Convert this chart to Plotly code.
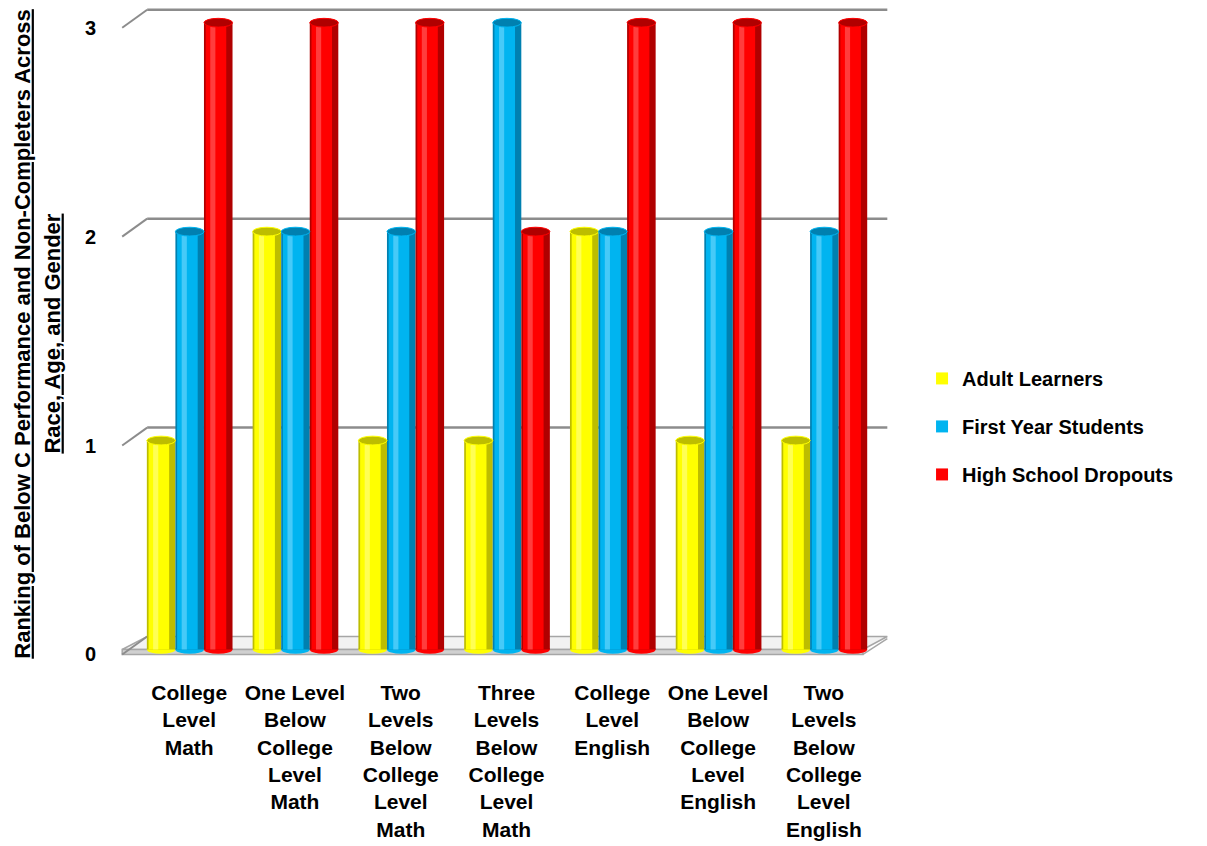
import plotly.graph_objects as go

categories = [
    "College<br>Level<br>Math",
    "One Level<br>Below<br>College<br>Level<br>Math",
    "Two<br>Levels<br>Below<br>College<br>Level<br>Math",
    "Three<br>Levels<br>Below<br>College<br>Level<br>Math",
    "College<br>Level<br>English",
    "One Level<br>Below<br>College<br>Level<br>English",
    "Two<br>Levels<br>Below<br>College<br>Level<br>English",
]
series_names = ["Adult Learners", "First Year Students", "High School Dropouts"]
adult = [1, 2, 1, 1, 2, 1, 1]
first_year = [2, 2, 2, 3, 2, 2, 2]
dropouts = [3, 3, 3, 2, 3, 3, 3]
y_ticks = [0, 1, 2, 3]

series_values = [adult, first_year, dropouts]
main_colors = ["#FFFF00", "#00B4F0", "#FF0000"]
dark_colors = ["#BDBD00", "#0080B0", "#B00000"]
light_colors = ["#FFFF99", "#7FDCFF", "#FF7070"]

FONT = "Liberation Sans, Arial, sans-serif"
xs = list(range(len(categories)))
bw = 0.27
offsets = [-0.40, -0.13, 0.14]

fig = go.Figure()
for i, (name, vals) in enumerate(zip(series_names, series_values)):
    off = offsets[i]
    fig.add_trace(go.Bar(x=xs, y=vals, width=bw, offset=off, marker=dict(color=dark_colors[i], line_width=0),
                         showlegend=False, hoverinfo="skip", legendgroup=name))
    fig.add_trace(go.Bar(x=xs, y=vals, width=bw * 0.72, offset=off + bw * 0.06, name=name,
                         marker=dict(color=main_colors[i], line_width=0), legendrank=i + 1,
                         legendgroup=name))
    fig.add_trace(go.Bar(x=xs, y=vals, width=bw * 0.18, offset=off + bw * 0.22,
                         marker=dict(color=light_colors[i], line_width=0, opacity=0.55),
                         showlegend=False, hoverinfo="skip", legendgroup=name))

shapes = []
GRID = "#8C8C8C"
back_dy = 0.062
front_dy = -0.024
x_front_left, x_back_left = -0.633, -0.397
x_back_right, x_front_right = 6.60, 6.37

shapes.append(dict(type="path", layer="below",
                   path=f"M {x_front_left},{0} L {x_front_right},{0} L {x_back_right},{back_dy} L {x_back_left},{back_dy} Z",
                   fillcolor="#F2F2F2", line=dict(color="#A6A6A6", width=1.5)))
shapes.append(dict(type="path", layer="below",
                   path=f"M {x_front_left},{0} L {x_front_right},{0} L {x_front_right},{front_dy} L {x_front_left},{front_dy} Z",
                   fillcolor="#D0D0D0", line=dict(color="#A6A6A6", width=1.5)))
shapes.append(dict(type="line", layer="below", x0=x_front_right, y0=front_dy, x1=x_back_right, y1=back_dy - 0.01,
                   line=dict(color="#A6A6A6", width=1.5)))
for v in y_ticks[1:]:
    shapes.append(dict(type="line", layer="below", x0=x_back_left, x1=x_back_right, y0=v + back_dy, y1=v + back_dy,
                       line=dict(color=GRID, width=2.5)))
    shapes.append(dict(type="line", layer="below", x0=x_front_left, x1=x_back_left, y0=v + front_dy, y1=v + back_dy,
                       line=dict(color=GRID, width=2)))
shapes.append(dict(type="line", layer="below", x0=x_front_left, x1=x_back_left, y0=front_dy, y1=back_dy,
                   line=dict(color=GRID, width=2)))

cap_h = 0.021
for i, vals in enumerate(series_values):
    for j, v in enumerate(vals):
        x0 = j + offsets[i]
        x1 = x0 + bw
        shapes.append(dict(type="circle", layer="below", x0=x0, x1=x1, y0=-cap_h, y1=cap_h,
                           fillcolor=main_colors[i], line=dict(width=0)))
        shapes.append(dict(type="circle", layer="above", x0=x0, x1=x1, y0=v - cap_h, y1=v + cap_h,
                           fillcolor=dark_colors[i], line=dict(color=main_colors[i], width=1)))

fig.update_layout(
    width=1207, height=846,
    margin=dict(l=113, r=307, t=6, b=183.5, autoexpand=False),
    paper_bgcolor="white", plot_bgcolor="white",
    barmode="overlay",
    shapes=shapes,
    font=dict(family=FONT, color="black", size=20),
    showlegend=True,
    legend=dict(x=1.028, y=0.462, xanchor="left", yanchor="top", traceorder="grouped",
                tracegroupgap=19, font=dict(family=FONT, size=20, weight="bold"),
                bgcolor="rgba(0,0,0,0)", itemwidth=30),
    xaxis=dict(range=[-0.72, 6.72], tickmode="array", tickvals=xs, ticktext=categories,
               showgrid=False, zeroline=False, showline=False, ticks="",
               tickfont=dict(family=FONT, size=21, weight="bold"), ticklabelstandoff=16,
               tickangle=0),
    yaxis=dict(range=[-0.06, 3.08], tickmode="array", tickvals=[v + front_dy for v in y_ticks],
               ticktext=[str(v) for v in y_ticks], showgrid=False, zeroline=False, showline=False,
               ticks="", tickfont=dict(family=FONT, size=20, weight="bold"), ticklabelstandoff=16),
    annotations=[
        dict(xref="paper", yref="paper", x=-0.116, y=0.5, xanchor="center", yanchor="middle",
             text="<u>Ranking of Below C Performance and Non-Completers Across</u>",
             textangle=-90, showarrow=False, font=dict(family=FONT, size=22, weight="bold")),
        dict(xref="paper", yref="paper", x=-0.078, y=0.5, xanchor="center", yanchor="middle",
             text="<u>Race, Age, and Gender</u>",
             textangle=-90, showarrow=False, font=dict(family=FONT, size=22, weight="bold")),
    ],
)

fig.write_html("out.html")
